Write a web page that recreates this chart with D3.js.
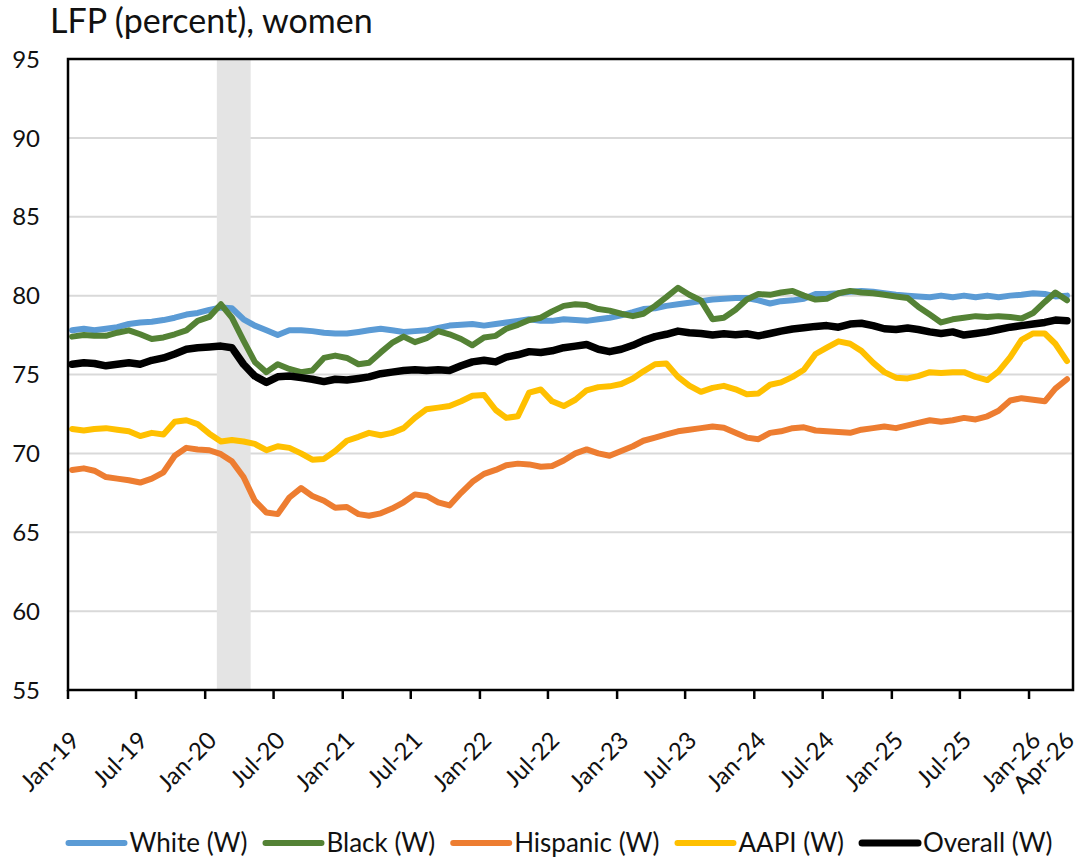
<!DOCTYPE html>
<html>
<head>
<meta charset="utf-8">
<script src="https://cdn.jsdelivr.net/npm/d3@7"></script>
<style>
  html, body { margin: 0; padding: 0; background: #fff; }
  svg { display: block; font-family: Lato, "Open Sans", sans-serif; }
</style>
</head>
<body>
<svg id="chart" width="1078" height="858"></svg>
<script>
// Monthly labor force participation rates, women, Jan 2019 – Apr 2026
const white = [77.8, 77.9, 77.8, 77.9, 78.0, 78.2, 78.3, 78.35, 78.45, 78.6, 78.8, 78.9,
  79.1, 79.25, 79.2, 78.5, 78.1, 77.8, 77.5, 77.8, 77.8, 77.75, 77.65, 77.6,
  77.6, 77.7, 77.8, 77.9, 77.8, 77.7, 77.75, 77.8, 77.95, 78.1, 78.15, 78.2,
  78.1, 78.2, 78.3, 78.4, 78.5, 78.4, 78.4, 78.5, 78.45, 78.4, 78.5, 78.6,
  78.75, 78.95, 79.15, 79.2, 79.35, 79.45, 79.55, 79.65, 79.75, 79.8, 79.85, 79.85,
  79.7, 79.5, 79.65, 79.7, 79.8, 80.1, 80.1, 80.15, 80.25, 80.3, 80.25, 80.15,
  80.05, 80.0, 79.95, 79.9, 80.0, 79.9, 80.0, 79.9, 80.0, 79.9, 80.0, 80.05,
  80.15, 80.1, 79.95, 80.0];

const black = [77.4, 77.5, 77.45, 77.45, 77.65, 77.8, 77.55, 77.25, 77.35, 77.55, 77.8, 78.4,
  78.65, 79.45, 78.6, 77.15, 75.8, 75.15, 75.65, 75.35, 75.15, 75.25, 76.05, 76.2,
  76.05, 75.65, 75.75, 76.4, 77.0, 77.4, 77.05, 77.3, 77.75, 77.55, 77.25, 76.85,
  77.35, 77.45, 77.9, 78.15, 78.45, 78.6, 79.0, 79.35, 79.45, 79.4, 79.15, 79.05,
  78.85, 78.7, 78.85, 79.35, 79.9, 80.5, 80.05, 79.7, 78.5, 78.6, 79.1, 79.75,
  80.1, 80.05, 80.2, 80.3, 80.0, 79.75, 79.8, 80.15, 80.3, 80.2, 80.15, 80.05,
  79.95, 79.85, 79.3, 78.8, 78.3, 78.5, 78.6, 78.7, 78.65, 78.7, 78.65, 78.55,
  78.9, 79.6, 80.2, 79.7];

const hispanic = [68.95, 69.05, 68.9, 68.5, 68.4, 68.3, 68.15, 68.4, 68.8, 69.85, 70.35, 70.25,
  70.2, 69.95, 69.5, 68.5, 67.0, 66.25, 66.15, 67.2, 67.8, 67.3, 67.0, 66.55,
  66.6, 66.15, 66.05, 66.2, 66.5, 66.9, 67.4, 67.3, 66.9, 66.7, 67.5, 68.2,
  68.7, 68.95, 69.25, 69.35, 69.3, 69.15, 69.2, 69.55, 70.0, 70.25, 70.0, 69.85,
  70.15, 70.45, 70.8, 71.0, 71.2, 71.4, 71.5, 71.6, 71.7, 71.62, 71.3, 71.0,
  70.9, 71.3, 71.4, 71.6, 71.65, 71.45, 71.4, 71.35, 71.3, 71.5, 71.6, 71.7,
  71.6, 71.78, 71.93, 72.1, 72.0, 72.1, 72.25, 72.15, 72.35, 72.7, 73.35, 73.5,
  73.4, 73.3, 74.1, 74.7];

const aapi = [71.55, 71.45, 71.55, 71.6, 71.5, 71.4, 71.1, 71.3, 71.2, 72.0, 72.1, 71.85,
  71.25, 70.75, 70.85, 70.75, 70.6, 70.2, 70.45, 70.35, 70.0, 69.6, 69.65, 70.15,
  70.8, 71.05, 71.3, 71.15, 71.3, 71.6, 72.25, 72.8, 72.9, 73.0, 73.3, 73.65,
  73.7, 72.75, 72.25, 72.35, 73.85, 74.05, 73.3, 73.0, 73.4, 74.0, 74.2, 74.25,
  74.4, 74.75, 75.2, 75.65, 75.7, 74.85, 74.3, 73.9, 74.15, 74.28, 74.06, 73.75,
  73.8, 74.35, 74.5, 74.85, 75.3, 76.3, 76.7, 77.1, 76.95, 76.5, 75.75, 75.15,
  74.8, 74.75, 74.9, 75.15, 75.1, 75.15, 75.15, 74.85, 74.65, 75.2, 76.1, 77.2,
  77.6, 77.6, 76.95, 75.85];

const overall = [75.65, 75.75, 75.7, 75.55, 75.65, 75.75, 75.65, 75.9, 76.05, 76.3, 76.6, 76.7,
  76.75, 76.8, 76.7, 75.65, 74.9, 74.5, 74.85, 74.9, 74.8, 74.7, 74.55, 74.7,
  74.65, 74.75, 74.85, 75.05, 75.15, 75.25, 75.3, 75.25, 75.3, 75.25, 75.55, 75.8,
  75.9, 75.8, 76.1, 76.25, 76.45, 76.4, 76.5, 76.7, 76.8, 76.9, 76.6, 76.45,
  76.6, 76.85, 77.15, 77.4, 77.55, 77.75, 77.65, 77.6, 77.5, 77.58, 77.52, 77.58,
  77.45, 77.6, 77.75, 77.88, 77.96, 78.05, 78.1, 78.0, 78.2, 78.25, 78.1, 77.9,
  77.85, 77.95, 77.85, 77.7, 77.6, 77.7, 77.5, 77.6, 77.7, 77.85, 78.0, 78.1,
  78.2, 78.3, 78.45, 78.4];

const seriesNames = ["White (W)", "Black (W)", "Hispanic (W)", "AAPI (W)", "Overall (W)"];
const seriesColors = ["#5B9BD5", "#548235", "#ED7D31", "#FFC000", "#000000"];
const seriesValues = [white, black, hispanic, aapi, overall];

const tickLabels = ["Jan-19", "Jul-19", "Jan-20", "Jul-20", "Jan-21", "Jul-21", "Jan-22",
  "Jul-22", "Jan-23", "Jul-23", "Jan-24", "Jul-24", "Jan-25", "Jul-25", "Jan-26", "Apr-26"];
const yTicks = [55, 60, 65, 70, 75, 80, 85, 90, 95];
const recession = ["Feb-20", "May-20"];

// Survey months; each estimate is plotted at its reference week (the 12th)
const months = d3.timeMonth.range(new Date(2019, 0, 1), new Date(2026, 4, 1));
const refDates = months.map(m => d3.timeDay.offset(m, 11));

const parse = d3.timeParse("%b-%y");
const svg = d3.select("#chart");

const plot = { left: 68, right: 1073, top: 59, bottom: 690 };

const x = d3.scaleTime()
  .domain([new Date(2019, 0, 1), new Date(2026, 3, 28)])
  .range([plot.left, plot.right]);
const y = d3.scaleLinear().domain([55, 95]).range([plot.bottom, plot.top]);

// horizontal gridlines
svg.append("g").selectAll("line")
  .data(yTicks.filter(v => v > 55 && v < 95))
  .join("line")
  .attr("x1", plot.left).attr("x2", plot.right)
  .attr("y1", d => y(d)).attr("y2", d => y(d))
  .attr("stroke", "#D9D9D9").attr("stroke-width", 2);

// recession shading
svg.append("rect")
  .attr("x", x(parse(recession[0])))
  .attr("y", plot.top)
  .attr("width", x(parse(recession[1])) - x(parse(recession[0])))
  .attr("height", plot.bottom - plot.top)
  .attr("fill", "#E4E4E4");

// series lines
const line = d3.line()
  .x((d, i) => x(refDates[i]))
  .y(d => y(d));

svg.append("g").selectAll("path")
  .data(seriesValues)
  .join("path")
  .attr("d", d => line(d))
  .attr("fill", "none")
  .attr("stroke", (d, i) => seriesColors[i])
  .attr("stroke-width", (d, i) => i === 4 ? 7.5 : 6)
  .attr("stroke-linejoin", "round")
  .attr("stroke-linecap", "round");

// plot frame
svg.append("rect")
  .attr("x", plot.left).attr("y", plot.top)
  .attr("width", plot.right - plot.left)
  .attr("height", plot.bottom - plot.top)
  .attr("fill", "none").attr("stroke", "#000").attr("stroke-width", 2.5);

// y axis labels
svg.append("g").selectAll("text")
  .data(yTicks)
  .join("text")
  .attr("x", 40)
  .attr("y", d => y(d))
  .attr("dy", "0.36em")
  .attr("text-anchor", "end")
  .attr("font-size", 24)
  .attr("fill", "#111")
  .text(d => d);

// x tick marks (Jan / Jul)
const tickDates = tickLabels.map(parse);
svg.append("g").selectAll("line")
  .data(tickDates.filter(d => d.getMonth() % 6 === 0))
  .join("line")
  .attr("x1", d => x(d)).attr("x2", d => x(d))
  .attr("y1", plot.bottom).attr("y2", plot.bottom + 9)
  .attr("stroke", "#000").attr("stroke-width", 2.5);

// x labels, rotated
svg.append("g").selectAll("text")
  .data(tickLabels)
  .join("text")
  .attr("transform", d => `translate(${x(parse(d)) + 13},${plot.bottom + 52}) rotate(-45)`)
  .attr("text-anchor", "end")
  .attr("font-size", 24)
  .attr("fill", "#111")
  .text(d => d);

// title
svg.append("text")
  .attr("x", 50).attr("y", 33)
  .attr("font-size", 34)
  .attr("fill", "#111")
  .text("LFP (percent), women");

// legend, laid out left to right and centred
const legend = svg.append("g");
const legY = 843, swatch = 56, gapText = 5, gapItem = 18;
let cursor = 0;
seriesNames.forEach((name, i) => {
  const g = legend.append("g");
  g.append("line")
    .attr("x1", cursor).attr("x2", cursor + swatch)
    .attr("y1", legY).attr("y2", legY)
    .attr("stroke", seriesColors[i])
    .attr("stroke-width", i === 4 ? 7 : 6)
    .attr("stroke-linecap", "round");
  const t = g.append("text")
    .attr("x", cursor + swatch + gapText)
    .attr("y", legY).attr("dy", "0.35em")
    .attr("font-size", 26).attr("fill", "#111")
    .text(name);
  cursor += swatch + gapText + t.node().getComputedTextLength() + gapItem;
});
const legWidth = cursor - gapItem;
legend.attr("transform", `translate(${(64 + 1057) / 2 - legWidth / 2},0)`);
</script>
</body>
</html>
